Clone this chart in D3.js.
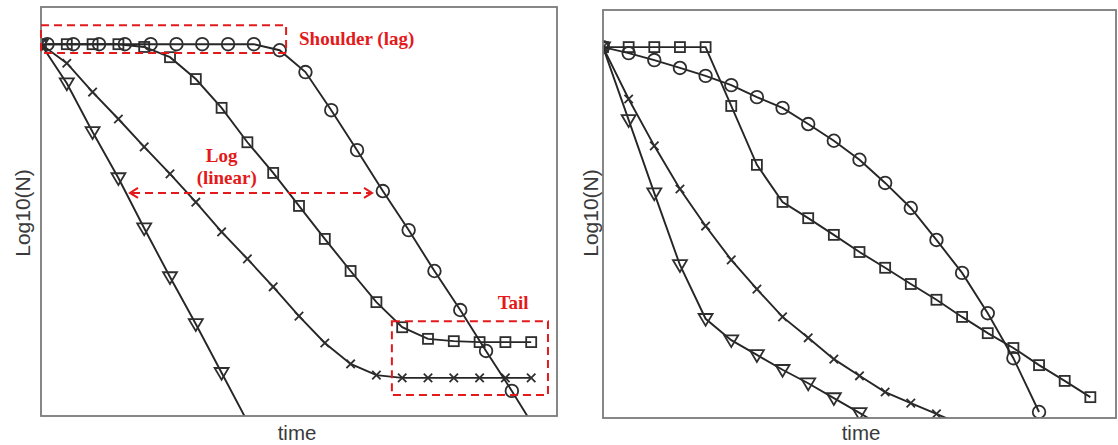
<!DOCTYPE html>
<html>
<head>
<meta charset="utf-8">
<script src="https://cdn.jsdelivr.net/npm/d3@7"></script>
<style>
  html, body { margin: 0; padding: 0; background: #fff; }
  svg { display: block; }
</style>
</head>
<body>
<svg id="chart" width="1118" height="445"></svg>
<script>
// ---- Survival curves: log10(N) over time, two panels ----

// Left panel: shoulder / log-linear / tail shapes
const leftSquareT = [0,1,2,3,4,5,6,7,8,9,10,11,12,13,14,15,16,17,18,19];
const leftSquareV = [8,8,8,8,7.94,7.72,7.25,6.63,5.89,5.23,4.52,3.81,3.12,2.45,1.91,1.66,1.61,1.59,1.59,1.59];

const leftCircleT = [0.25,1.25,2.25,3.25,4.25,5.25,6.25,7.25,8.25,9.25,10.25,11.25,12.25,13.25,14.25,15.25,16.25,17.25,18.25,19.25];
const leftCircleV = [8,8,8,8,8,8,8,8,8,7.87,7.40,6.58,5.72,4.84,4.00,3.12,2.28,1.40,0.54,-0.36];

const leftCrossT = [0,1,2,3,4,5,6,7,8,9,10,11,12,13,14,15,16,17,18,19];
const leftCrossV = [8,7.59,6.97,6.39,5.79,5.21,4.60,3.96,3.38,2.78,2.15,1.57,1.12,0.88,0.82,0.82,0.82,0.82,0.82,0.82];

const leftTriT = [0,1,2,3,4,5,6,7,8];
const leftTriV = [8,7.16,6.11,5.12,4.04,2.99,1.98,0.93,-0.12];

// Right panel: curved (non-linear) shapes
const rightSquareT = [0,1,2,3,4,5,6,7,8,9,10,11,12,13,14,15,16,17,18,19];
const rightSquareV = [8,8,8,8,8,6.73,5.46,4.66,4.31,3.95,3.58,3.24,2.89,2.55,2.18,1.83,1.51,1.14,0.80,0.45];

const rightCircleT = [0,1,2,3,4,5,6,7,8,9,10,11,12,13,14,15,16,17];
const rightCircleV = [8,7.87,7.72,7.55,7.38,7.18,6.92,6.69,6.34,5.98,5.57,5.07,4.53,3.84,3.13,2.26,1.29,0.13];

const rightCrossT = [0,1,2,3,4,5,6,7,8,9,10,11,12,13,14];
const rightCrossV = [8,6.88,5.87,4.94,4.14,3.41,2.78,2.18,1.73,1.27,0.91,0.56,0.32,0.09,-0.15];

const rightTriT = [0,1,2,3,4,5,6,7,8,9,10,11];
const rightTriV = [8,6.43,4.85,3.30,2.14,1.68,1.36,1.04,0.75,0.43,0.11,-0.22];

// Axis titles
const yTitle = "Log10(N)";
const xTitle = "time";

// Annotation labels (left panel)
const shoulderLabel = "Shoulder (lag)";
const logLabel = ["Log", "(linear)"];
const tailLabel = "Tail";

// ---- drawing ----
const svg = d3.select("#chart");
const RED = "#e31a1c";
const INK = "#262626";

function zip(ts, vs) { return ts.map((t, i) => ({ t, v: vs[i] })); }

function panel(id, box, series) {
  const x = d3.scaleLinear().domain([0, 20]).range([box.x0, box.x1]);
  const y = d3.scaleLinear().domain([0, 8.8]).range([box.y1, box.y0]);

  const g = svg.append("g");
  g.append("clipPath").attr("id", id)
    .append("rect")
    .attr("x", box.x0).attr("y", box.y0)
    .attr("width", box.x1 - box.x0).attr("height", box.y1 - box.y0);

  const plot = g.append("g").attr("clip-path", `url(#${id})`);
  const line = d3.line().x(d => x(d.t)).y(d => y(d.v));

  series.forEach(s => {
    const data = zip(s.t, s.v);
    plot.append("path")
      .datum(data)
      .attr("d", line)
      .attr("fill", "none")
      .attr("stroke", INK)
      .attr("stroke-width", 1.9);

    const m = plot.append("g")
      .selectAll("g").data(data).join("g")
      .attr("transform", d => `translate(${x(d.t)},${y(d.v)})`);
    drawMarker(m, s.shape);
  });

  // frame
  g.append("rect")
    .attr("x", box.x0).attr("y", box.y0)
    .attr("width", box.x1 - box.x0).attr("height", box.y1 - box.y0)
    .attr("fill", "none").attr("stroke", "#7a7a7a").attr("stroke-width", 1.8);

  // axis titles
  g.append("text")
    .attr("transform", `translate(${box.yTitleX},${box.yTitleY}) rotate(-90)`)
    .attr("text-anchor", "middle")
    .attr("dominant-baseline", "central")
    .attr("font-family", "Liberation Sans, Arial, sans-serif")
    .attr("font-size", 21)
    .attr("fill", "#3a3a3a")
    .text(yTitle);

  g.append("text")
    .attr("x", box.xTitleX)
    .attr("y", 440)
    .attr("text-anchor", "middle")
    .attr("font-family", "Liberation Sans, Arial, sans-serif")
    .attr("font-size", 20.5)
    .attr("fill", "#3a3a3a")
    .text(xTitle);

  return { x, y, g };
}

function drawMarker(sel, shape) {
  const st = { fill: "none", stroke: "#2e2e2e", "stroke-width": 1.8 };
  const apply = s => { Object.entries(st).forEach(([k, v]) => s.attr(k, v)); return s; };
  if (shape === "circle") {
    apply(sel.append("circle").attr("r", 6.3));
  } else if (shape === "square") {
    apply(sel.append("rect").attr("x", -5).attr("y", -5).attr("width", 10).attr("height", 10));
  } else if (shape === "triangle") {
    apply(sel.append("path").attr("d", "M-7,-4.8L7,-4.8L0,7Z"));
  } else if (shape === "cross") {
    apply(sel.append("path").attr("d", "M-4.2,-4.2L4.2,4.2M-4.2,4.2L4.2,-4.2"));
  }
}

// Left panel
const L = panel("clipL", { x0: 41, x1: 557, y0: 7, y1: 416, yTitleX: 22, yTitleY: 213, xTitleX: 297 }, [
  { t: leftTriT, v: leftTriV, shape: "triangle" },
  { t: leftCrossT, v: leftCrossV, shape: "cross" },
  { t: leftSquareT, v: leftSquareV, shape: "square" },
  { t: leftCircleT, v: leftCircleV, shape: "circle" }
]);

// Right panel
panel("clipR", { x0: 603, x1: 1116, y0: 10, y1: 418, yTitleX: 590, yTitleY: 213, xTitleX: 861 }, [
  { t: rightTriT, v: rightTriV, shape: "triangle" },
  { t: rightCrossT, v: rightCrossV, shape: "cross" },
  { t: rightSquareT, v: rightSquareV, shape: "square" },
  { t: rightCircleT, v: rightCircleV, shape: "circle" }
]);

// ---- annotations on the left panel ----
const ax = L.x, ay = L.y;
const ann = svg.append("g");
const dash = { stroke: RED, "stroke-width": 2, "stroke-dasharray": "8,5", fill: "none" };
const setAll = (s, o) => { Object.entries(o).forEach(([k, v]) => s.attr(k, v)); return s; };

// shoulder region
setAll(ann.append("rect")
  .attr("x", ax(0)).attr("y", ay(8.41))
  .attr("width", ax(9.5) - ax(0)).attr("height", ay(7.81) - ay(8.41)), dash);

// tail region
setAll(ann.append("rect")
  .attr("x", ax(13.6)).attr("y", ay(2.04))
  .attr("width", ax(19.65) - ax(13.6)).attr("height", ay(0.45) - ay(2.04)), dash);

// log-linear span arrow
const arrowY = ay(4.8), ax0 = ax(3.45), ax1 = ax(12.83);
setAll(ann.append("line").attr("x1", ax0 + 2).attr("x2", ax1 - 2)
  .attr("y1", arrowY).attr("y2", arrowY), dash);
[[ax0, 1], [ax1, -1]].forEach(([px, dir]) => {
  ann.append("path")
    .attr("d", `M${px + dir * 8},${arrowY - 5}L${px},${arrowY}L${px + dir * 8},${arrowY + 5}`)
    .attr("fill", "none").attr("stroke", RED).attr("stroke-width", 2);
});

const redText = (s) => s.attr("font-family", "Liberation Serif, Times New Roman, serif")
  .attr("font-weight", "bold").attr("font-size", 19).attr("fill", RED);

redText(ann.append("text").attr("x", ax(10.0)).attr("y", ay(7.98)).text(shoulderLabel));
redText(ann.append("text").attr("x", ax(7.0)).attr("y", ay(5.46)).attr("text-anchor", "middle").text(logLabel[0]));
redText(ann.append("text").attr("x", ax(7.2)).attr("y", ay(5.0)).attr("text-anchor", "middle").text(logLabel[1]));
redText(ann.append("text").attr("x", ax(18.3)).attr("y", ay(2.3)).attr("text-anchor", "middle").text(tailLabel));
</script>
</body>
</html>
